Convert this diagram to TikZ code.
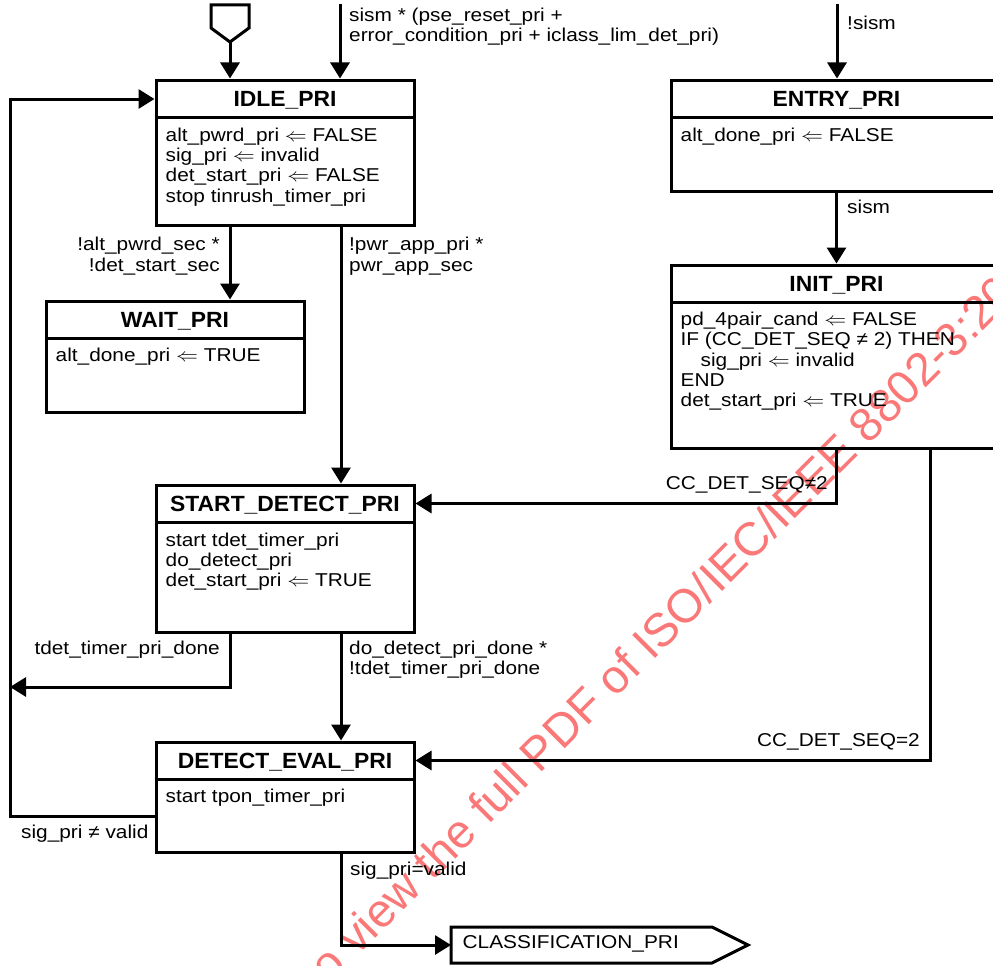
\RequirePackage{fix-cm}
\documentclass[tikz,border=0pt]{standalone}
\usepackage{graphicx}
\usepackage{fontspec}
\setmainfont{Liberation Sans}[FakeStretch=1.12]
\newfontfamily\ttlfont{Liberation Sans}[FakeStretch=1.04]
\newfontfamily\wmfont{Liberation Sans}
\usetikzlibrary{arrows.meta}
\definecolor{wmred}{RGB}{250,120,120}
\newcommand{\asg}{\scalebox{1.18}[1]{$\Leftarrow$}}
\begin{document}
\begin{tikzpicture}[x=1pt,y=-1pt,
  ln/.style={line width=3pt},
  arr/.style={line width=3pt,-{Triangle[length=16pt,width=19pt]}},
  statebox/.style={draw,line width=3pt,rectangle,inner sep=0pt},
  ttl/.style={font=\ttlfont\bfseries\fontsize{22}{24}\selectfont,inner sep=0pt,anchor=base},
  txt/.style={font=\fontsize{18.6}{20.3}\selectfont,inner sep=0pt,anchor=base west},
  rtxt/.style={font=\fontsize{18.6}{20.3}\selectfont,inner sep=0pt,anchor=base east},
  wm/.style={font=\wmfont\fontsize{47}{50}\selectfont,text=wmred,inner sep=0pt,anchor=base west,rotate=45}
]
\clip (0,0) rectangle (993,966);
\fill[white] (0,0) rectangle (993,966);
% watermark
\node[wm] (wmark) at (320,994) {to view the full PDF of ISO/IEC/IEEE 8802-3:2021};

% state boxes
\node[statebox,minimum width=258,minimum height=145] (idle) at (285,152.5) {};
\node[statebox,minimum width=258,minimum height=111] (wait) at (175,356.5) {};
\node[statebox,minimum width=331,minimum height=111] (entry) at (836.5,135.5) {};
\node[statebox,minimum width=331,minimum height=183] (init) at (836.5,356.5) {};
\node[statebox,minimum width=258,minimum height=147] (start) at (285,558.5) {};
\node[statebox,minimum width=258,minimum height=110] (deval) at (285,797) {};

% header lines
\draw[ln] (idle.west |- 0,117) -- (idle.east |- 0,117);
\draw[ln] (wait.west |- 0,338) -- (wait.east |- 0,338);
\draw[ln] (entry.west |- 0,117) -- (entry.east |- 0,117);
\draw[ln] (init.west |- 0,302) -- (init.east |- 0,302);
\draw[ln] (start.west |- 0,522) -- (start.east |- 0,522);
\draw[ln] (deval.west |- 0,779) -- (deval.east |- 0,779);

% titles
\node[ttl] (idlet) at (285,106.4) {IDLE\_PRI};
\node[ttl] (waitt) at (175,327.4) {WAIT\_PRI};
\node[ttl] (entryt) at (836.5,106.4) {ENTRY\_PRI};
\node[ttl] (initt) at (836.5,291.4) {INIT\_PRI};
\node[ttl] (startt) at (285,511.4) {START\_DETECT\_PRI};
\node[ttl] (devalt) at (285,768.4) {DETECT\_EVAL\_PRI};

% bodies
\node[txt] (idleb) at (165.5,141.3) {\parbox[t]{240pt}{\raggedright
  alt\_pwrd\_pri \asg{} FALSE\\
  sig\_pri \asg{} invalid\\
  det\_start\_pri \asg{} FALSE\\
  stop tinrush\_timer\_pri}};
\node[txt] (waitb) at (55.5,361.3) {alt\_done\_pri \asg{} TRUE};
\node[txt] (entryb) at (680.5,141.3) {alt\_done\_pri \asg{} FALSE};
\node[txt] (initb) at (680.5,325.5) {\parbox[t]{300pt}{\raggedright
  pd\_4pair\_cand \asg{} FALSE\\
  IF (CC\_DET\_SEQ ≠ 2) THEN\\
  \hspace*{20pt}sig\_pri \asg{} invalid\\
  END\\
  det\_start\_pri \asg{} TRUE}};
\node[txt] (startb) at (165.5,546) {\parbox[t]{240pt}{\raggedright
  start tdet\_timer\_pri\\
  do\_detect\_pri\\
  det\_start\_pri \asg{} TRUE}};
\node[txt] (devalb) at (165.5,802.5) {start tpon\_timer\_pri};

% classification exit
\draw[ln] (451,927) -- (712,927) -- (748,945) -- (712,963) -- (451,963) -- cycle;
\node[txt] (classt) at (462.5,948.5) {CLASSIFICATION\_PRI};
\coordinate (clsin) at (451,945);

% entry pentagon
\draw[ln] (211,5) -- (249,5) -- (249,28) -- (230,42) -- (211,28) -- cycle;
\coordinate (initsym) at (230,42);
\coordinate (topA) at (340,4);
\coordinate (topB) at (837,4);

% connectors
\draw[arr] (initsym) -- (idle.north -| initsym);
\draw[arr] (topA) -- (idle.north -| topA);
\draw[arr] (topB) -- (entry.north -| topB);
\draw[arr] (entry.south) -- (init.north);
\draw[arr] (idle.south -| 230,0) -- (wait.north -| 230,0);
\draw[arr] (idle.south -| 341,0) -- (start.north -| 341,0);
\draw[arr] (init.south -| 836,0) |- (start.east |- 0,503.5);
\draw[arr] (init.south -| 930,0) |- (deval.east |- 0,760.5);
\coordinate (leftin) at (10,687);
\draw[arr] (start.south -| 230,0) |- (leftin);
\draw[arr] (start.south -| 341,0) -- (deval.north -| 341,0);
\draw[arr] (deval.west |- 0,816) -- (10,816) -- (10,99) -- (idle.west |- 0,99);
\draw[arr] (deval.south -| 341,0) |- (clsin);

% labels
\node[txt] (l1) at (349,21.5) {\parbox[t]{400pt}{\raggedright
  sism * (pse\_reset\_pri +\\
  error\_condition\_pri + iclass\_lim\_det\_pri)}};
\node[txt] (l2) at (847,30) {!sism};
\node[txt] (l3) at (847,213) {sism};
\node[rtxt] (l4) at (220,250.7) {\parbox[t]{200pt}{\raggedleft
  !alt\_pwrd\_sec *\\
  !det\_start\_sec}};
\node[txt] (l5) at (349,250.7) {\parbox[t]{200pt}{\raggedright
  !pwr\_app\_pri *\\
  pwr\_app\_sec}};
\node[rtxt] (l6) at (828,489.5) {CC\_DET\_SEQ≠2};
\node[rtxt] (l7) at (920,746.7) {CC\_DET\_SEQ=2};
\node[rtxt] (l8) at (220,654) {tdet\_timer\_pri\_done};
\node[txt] (l9) at (349,654) {\parbox[t]{250pt}{\raggedright
  do\_detect\_pri\_done *\\
  !tdet\_timer\_pri\_done}};
\node[txt] (l10) at (21,838) {sig\_pri ≠ valid};
\node[txt] (l11) at (350,875) {sig\_pri=valid};
\end{tikzpicture}
\end{document}
